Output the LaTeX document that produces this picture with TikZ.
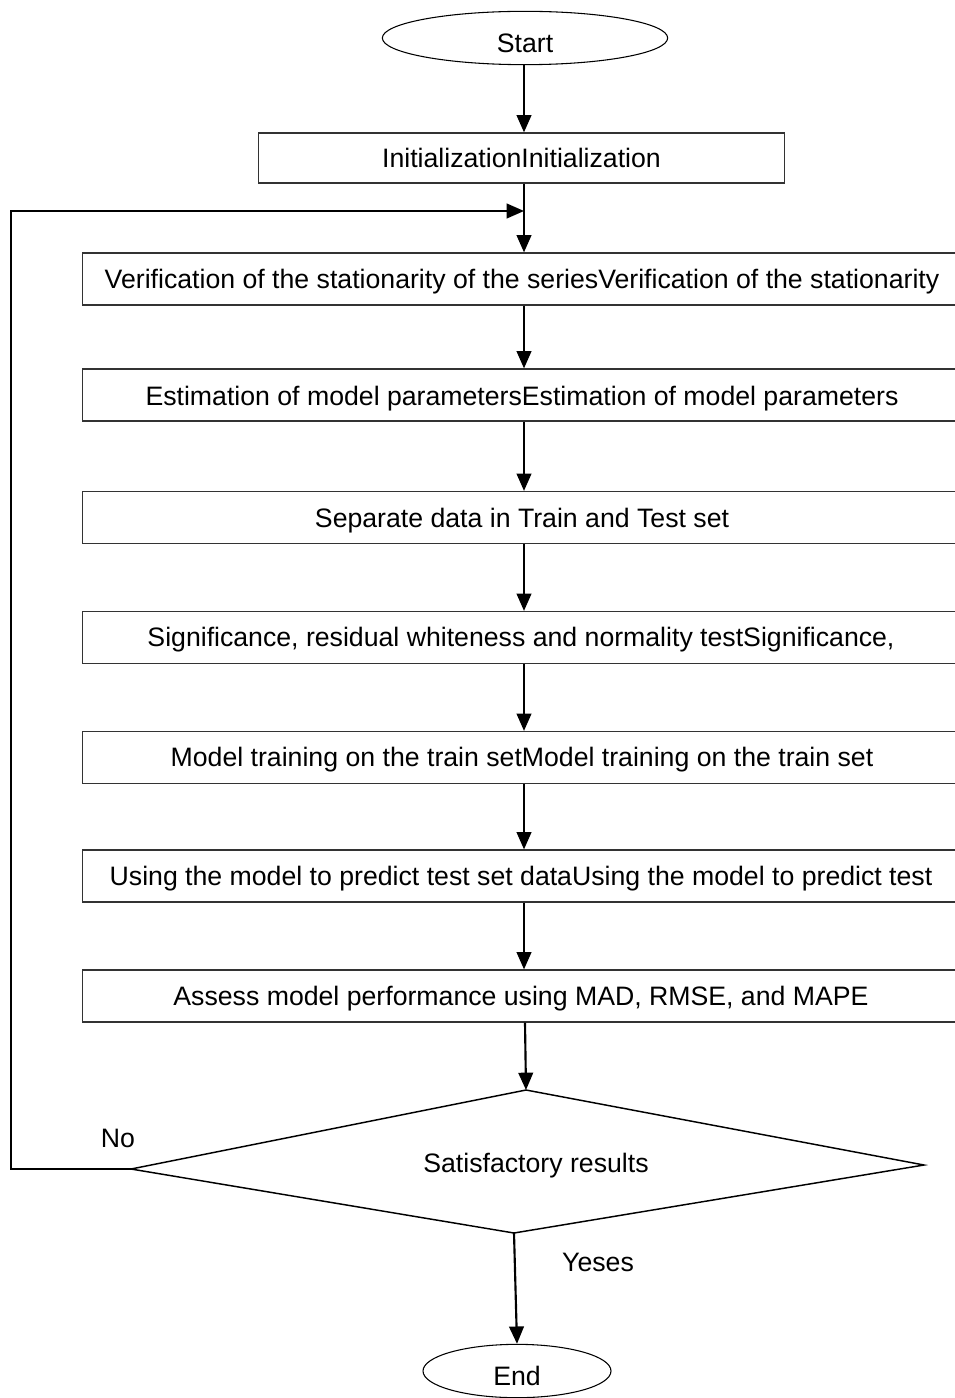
\documentclass[tikz,border=0pt]{standalone}
\usepackage{fontspec}
\setmainfont{Liberation Sans}
\usetikzlibrary{arrows.meta,shapes.geometric}
\begin{document}
\begin{tikzpicture}[x=0.75pt,y=-0.75pt,
  font=\fontsize{20pt}{24pt}\selectfont,
  stepbox/.style={draw=black!80,line width=0.9pt,rectangle,minimum width=660pt,minimum height=39pt,inner sep=0pt,anchor=west},
  term/.style={draw,line width=0.8pt,ellipse,inner sep=0pt},
  arr/.style={line width=1.6pt,-{Triangle[length=13pt,width=11pt]}},
  lbl/.style={inner sep=0pt}]
\useasboundingbox (0,0) rectangle (955,1398);
\clip (0,0) rectangle (955,1398);
\node[term,minimum width=214pt,minimum height=40pt] (start) at (525,38) {};
\node[lbl] (starttxt) at (525,43) {Start};
\node[draw=black!80,line width=0.9pt,minimum width=394pt,minimum height=37.5pt,inner sep=0pt] (init) at (521.5,158) {InitializationInitialization};
\node[stepbox] (b1) at (82,279) {};
\node[lbl] at (522,282) {Verification of the stationarity of the seriesVerification of the stationarity};
\node[stepbox] (b2) at (82,395) {};
\node[lbl] at (522,398.5) {Estimation of model parametersEstimation of model parameters};
\node[stepbox] (b3) at (82,517.5) {};
\node[lbl] at (522,520.5) {Separate data in Train and Test set};
\node[stepbox] (b4) at (82,637.5) {};
\node[lbl] at (521,640) {Significance, residual whiteness and normality testSignificance,};
\node[stepbox] (b5) at (82,757.5) {};
\node[lbl] at (522,760) {Model training on the train setModel training on the train set};
\node[stepbox] (b6) at (82,876) {};
\node[lbl] at (521,879) {Using the model to predict test set dataUsing the model to predict test};
\node[stepbox] (b7) at (82,996) {};
\node[lbl] at (521,999) {Assess model performance using MAD, RMSE, and MAPE};
\coordinate (dt) at (526,1090);
\coordinate (dr) at (924,1165);
\coordinate (db) at (514,1233);
\coordinate (dl) at (131,1169);
\draw[line width=1.1pt,line join=miter] (dt) -- (dr) -- (db) -- (dl) -- cycle;
\node[lbl] (dec) at (536,1166) {Satisfactory results};
\node[term,minimum width=141pt,minimum height=40pt] (end) at (517,1371) {};
\node[lbl] (endtxt) at (517,1376) {End};
\node[lbl] (no) at (118,1138) {No};
\node[lbl] (yes) at (598,1262) {Yeses};
\coordinate (fb1) at (11,1169);
\coordinate (fb2) at (11,211);
\coordinate (fbj) at (524,211);
\draw[arr] (start.south -| 524,0) -- (init.north -| 524,0);
\draw[arr] (init.south -| 524,0) -- (b1.north -| 524,0);
\draw[arr,line join=miter] (dl) -- (fb1) -- (fb2) -- (fbj);
\draw[arr] (b1.south -| 524,0) -- (b2.north -| 524,0);
\draw[arr] (b2.south -| 524,0) -- (b3.north -| 524,0);
\draw[arr] (b3.south -| 524,0) -- (b4.north -| 524,0);
\draw[arr] (b4.south -| 524,0) -- (b5.north -| 524,0);
\draw[arr] (b5.south -| 524,0) -- (b6.north -| 524,0);
\draw[arr] (b6.south -| 524,0) -- (b7.north -| 524,0);
\draw[arr] (b7.south -| 525,0) -- (dt);
\draw[arr] (db) -- (end.north);
\end{tikzpicture}
\end{document}
